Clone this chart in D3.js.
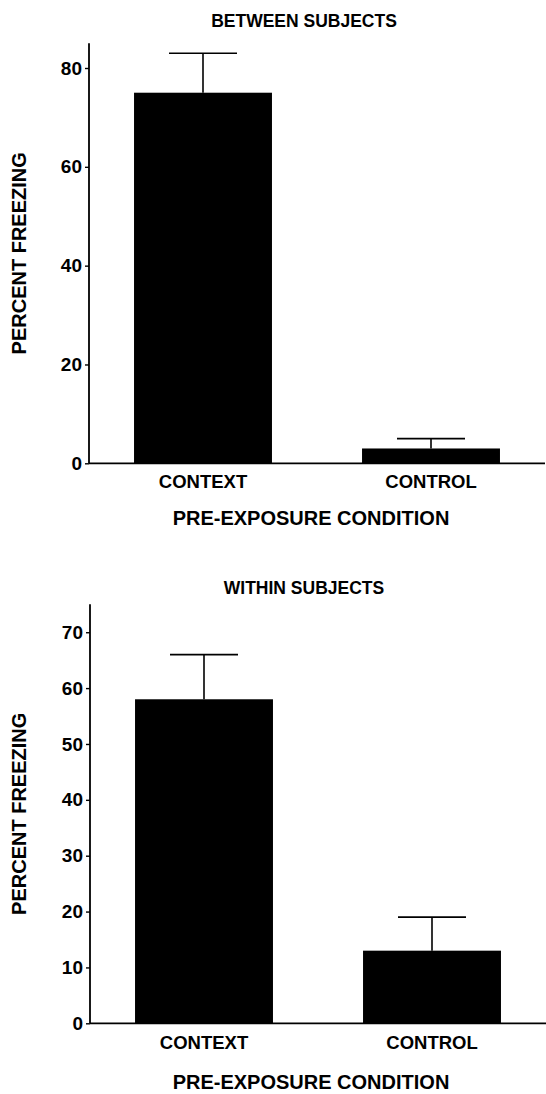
<!DOCTYPE html>
<html>
<head>
<meta charset="utf-8">
<script src="https://cdn.jsdelivr.net/npm/d3@7"></script>
<style>
  html, body { margin: 0; padding: 0; background: #fff; }
  svg { display: block; }
  text { font-family: "Liberation Sans", Arial, Helvetica, sans-serif; font-weight: bold; fill: #000; }
</style>
</head>
<body>
<svg id="chart" width="546" height="1094"></svg>
<script>
// ---- data ----
const categories = ["CONTEXT", "CONTROL"];

const betweenTitle = "BETWEEN SUBJECTS";
const betweenMeans = [75, 3];
const betweenErrors = [8, 2];
const betweenTicks = [0, 20, 40, 60, 80];
const betweenMax = 85;

const withinTitle = "WITHIN SUBJECTS";
const withinMeans = [58, 13];
const withinErrors = [8, 6];
const withinTicks = [0, 10, 20, 30, 40, 50, 60, 70];
const withinMax = 75;

const yLabel = "PERCENT FREEZING";
const xLabel = "PRE-EXPOSURE CONDITION";

// ---- drawing ----
const svg = d3.select("#chart");

function panel(cfg) {
  const g = svg.append("g");
  const x = d3.scaleBand()
    .domain(categories)
    .range([cfg.left, cfg.right])
    .paddingInner(0.395)
    .paddingOuter(0.1975);
  const y = d3.scaleLinear()
    .domain([0, cfg.max])
    .range([cfg.bottom, cfg.top]);

  // bars
  g.selectAll("rect.bar")
    .data(cfg.means)
    .join("rect")
    .attr("class", "bar")
    .attr("x", (d, i) => x(categories[i]))
    .attr("width", x.bandwidth())
    .attr("y", d => y(d))
    .attr("height", d => y(0) - y(d))
    .attr("fill", "#000");

  // error bars (upper only)
  const capW = 68;
  cfg.means.forEach((m, i) => {
    const cx = x(categories[i]) + x.bandwidth() / 2;
    g.append("line")
      .attr("x1", cx).attr("x2", cx)
      .attr("y1", y(m)).attr("y2", y(m + cfg.errors[i]))
      .attr("stroke", "#000").attr("stroke-width", 1.6);
    g.append("line")
      .attr("x1", cx - capW / 2).attr("x2", cx + capW / 2)
      .attr("y1", y(m + cfg.errors[i])).attr("y2", y(m + cfg.errors[i]))
      .attr("stroke", "#000").attr("stroke-width", 1.6);
  });

  // y axis
  const yAxis = d3.axisLeft(y)
    .tickValues(cfg.ticks)
    .tickSize(4)
    .tickPadding(3)
    .tickSizeOuter(0);
  const ya = g.append("g")
    .attr("transform", `translate(${cfg.left},0)`)
    .call(yAxis);
  ya.select(".domain").remove();
  ya.selectAll(".tick line").attr("stroke", "#000").attr("stroke-width", 1.4);
  ya.selectAll(".tick text")
    .attr("font-size", 19)
    .attr("font-family", "'Liberation Sans', Arial, sans-serif")
    .attr("font-weight", "bold")
    .attr("fill", "#000");
  g.append("line")
    .attr("x1", cfg.left).attr("x2", cfg.left)
    .attr("y1", y(cfg.max)).attr("y2", y(0))
    .attr("stroke", "#000").attr("stroke-width", 1.8);

  // x axis baseline and category labels
  const xAxis = d3.axisBottom(x).tickSize(0).tickPadding(0);
  const xa = g.append("g")
    .attr("transform", `translate(0,${y(0)})`)
    .call(xAxis);
  xa.select(".domain").remove();
  xa.selectAll(".tick text")
    .attr("dy", null)
    .attr("y", cfg.catY - y(0))
    .attr("dominant-baseline", "central")
    .attr("font-size", 18.5)
    .attr("font-family", "'Liberation Sans', Arial, sans-serif")
    .attr("font-weight", "bold")
    .attr("fill", "#000");
  g.append("line")
    .attr("x1", cfg.left).attr("x2", cfg.right)
    .attr("y1", y(0)).attr("y2", y(0))
    .attr("stroke", "#000").attr("stroke-width", 1.8);

  // titles
  g.append("text")
    .attr("x", 304).attr("y", cfg.titleY)
    .attr("text-anchor", "middle")
    .attr("dominant-baseline", "central")
    .attr("font-size", 17.5)
    .text(cfg.title);
  g.append("text")
    .attr("x", 311).attr("y", cfg.xLabelY)
    .attr("text-anchor", "middle")
    .attr("dominant-baseline", "central")
    .attr("font-size", 20)
    .text(xLabel);
  g.append("text")
    .attr("transform", `translate(19,${(y(0) + y(cfg.max)) / 2}) rotate(-90)`)
    .attr("text-anchor", "middle")
    .attr("dominant-baseline", "central")
    .attr("font-size", 20)
    .text(yLabel);
}

panel({
  title: betweenTitle, means: betweenMeans, errors: betweenErrors,
  ticks: betweenTicks, max: betweenMax,
  left: 89, right: 545, top: 43.3, bottom: 463.3,
  titleY: 21, catY: 482, xLabelY: 518
});

panel({
  title: withinTitle, means: withinMeans, errors: withinErrors,
  ticks: withinTicks, max: withinMax,
  left: 90, right: 546, top: 604.3, bottom: 1023.3,
  titleY: 588, catY: 1043, xLabelY: 1082
});
</script>
</body>
</html>
